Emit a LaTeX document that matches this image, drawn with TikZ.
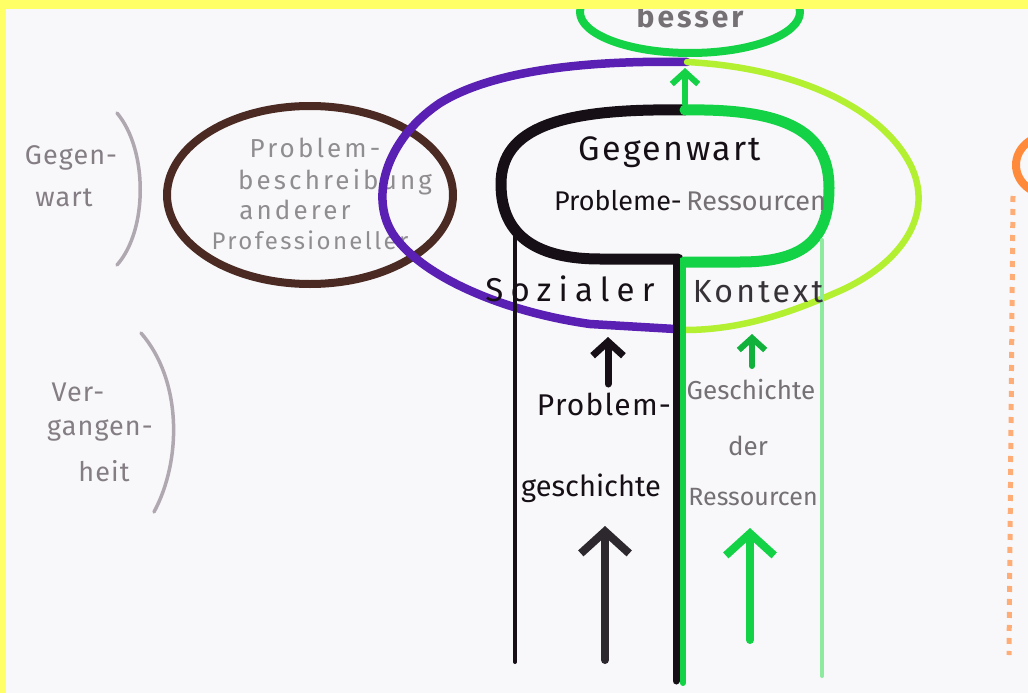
\documentclass[tikz,border=0pt]{standalone}
\usepackage{fontspec}
\setmainfont{Fira Sans}
\usetikzlibrary{arrows.meta}
\definecolor{paper}{HTML}{F8F8FA}
\definecolor{hiyellow}{HTML}{FFFF66}
\definecolor{crayon}{HTML}{161016}
\definecolor{violet}{HTML}{5A20B4}
\definecolor{lime}{HTML}{B4F032}
\definecolor{leaf}{HTML}{14D246}
\definecolor{paleleaf}{HTML}{8EEA9E}
\definecolor{bark}{HTML}{4A2A22}
\definecolor{pencil}{HTML}{B0A8B0}
\definecolor{softgrey}{HTML}{747074}
\definecolor{tangerine}{HTML}{FF8A3C}
\tikzset{
  stroke/.style={line cap=round,line join=round},
  upbarb/.style={-{Straight Barb[length=#1,width=2.2*#1]},line cap=round},
  handtext/.style={inner sep=0pt,anchor=center},
  faded/.style={handtext,text=softgrey},
  legend/.style={handtext,text=pencil!75!black,font=\fontsize{27}{27}\selectfont\addfontfeatures{LetterSpace=4}},
  outside/.style={handtext,text=softgrey!80,font=\fontsize{26}{26}\selectfont\addfontfeatures{LetterSpace=12}},
}
\begin{document}
\begin{tikzpicture}[x=1pt,y=-1pt]
\useasboundingbox (0,0) rectangle (1028,693);
\fill[paper] (0,0) rectangle (1028,693);

% ---- "besser" goal at the top ----
\node[faded,font=\fontsize{30}{30}\selectfont\bfseries\addfontfeatures{LetterSpace=10}] (besser) at (690,16) {besser};
\draw[stroke,leaf,line width=8pt] (690,12) ellipse (110 and 41);

% ---- left legend ----
\node[legend] (gegen) at (71,158) {Gegen-};
\node[legend] (wart) at (64,198) {wart};
\draw[stroke,pencil,line width=3.5pt] (117,113) .. controls (148,150) and (148,230) .. (117,265);
\node[legend] (ver) at (78,392) {Ver-};
\node[legend] (gangen) at (100,430) {gangen-};
\node[legend] (heit) at (104,471) {heit};
\draw[stroke,pencil,line width=3.5pt] (141,333) .. controls (182,380) and (182,460) .. (154,512);

% ---- other professionals' view ----
\node[outside] (pb1) at (315,148) {Problem-};
\node[outside] (pb2) at (335,182) {beschreibung};
\node[outside] (pb3) at (295,210) {anderer};
\node[outside,font=\fontsize{24}{24}\selectfont\addfontfeatures{LetterSpace=10}] (pb4) at (310,240) {Professioneller};
\draw[stroke,bark,line width=8pt] (310,195) ellipse (143 and 89);

% ---- social context: purple (problems) and lime (resources) ----
\coordinate (top) at (687,62);
\coordinate (lowL) at (675,329);
\coordinate (lowR) at (685,330);
\draw[stroke,violet,line width=8.5pt] (top) .. controls (580,60) and (490,72) .. (440,103)
  .. controls (385,140) and (368,200) .. (395,237)
  .. controls (425,278) and (505,312) .. (590,324) -- (lowL);
\draw[stroke,lime,line width=6.5pt] (top) .. controls (800,68) and (885,110) .. (912,168)
  .. controls (935,220) and (895,268) .. (835,293)
  .. controls (790,313) and (740,330) .. (lowR);

% ---- present: problems and resources ----
\coordinate (ptop) at (685,110);
\draw[stroke,crayon,line width=11pt] (ptop) .. controls (560,108) and (501,128) .. (501,184)
  .. controls (501,238) and (540,259) .. (600,259) -- (678,259);
\draw[stroke,leaf,line width=11pt] (ptop) .. controls (800,108) and (829,140) .. (829,188)
  .. controls (829,243) and (800,262) .. (740,262) -- (684,262);
\node[handtext,text=crayon,font=\fontsize{34}{34}\selectfont\addfontfeatures{LetterSpace=7}] (gegenwart) at (670,152) {Gegenwart};
\node[handtext,font=\fontsize{27}{27}\selectfont] (probres) at (690,201) {\textcolor{crayon}{Probleme-}\,\textcolor{softgrey}{Ressourcen}};

% ---- column borders ----
\draw[stroke,crayon,line width=4pt] (515,236) -- (515,662);
\draw[stroke,crayon,line width=7pt] (676,259) -- (676,681);
\draw[stroke,leaf,line width=6pt] (683,262) -- (683,683);
\draw[stroke,paleleaf,line width=4pt] (822,240) -- (822,676);

% ---- labels of the social context ----
\node[handtext,text=crayon,font=\fontsize{33}{33}\selectfont\addfontfeatures{LetterSpace=22}] (sozialer) at (570,289) {Sozialer};
\node[handtext,text=crayon!65!softgrey,font=\fontsize{32}{32}\selectfont\addfontfeatures{LetterSpace=10}] (kontext) at (758,292) {Kontext};

% ---- histories ----
\node[handtext,text=crayon,font=\fontsize{30}{30}\selectfont\addfontfeatures{LetterSpace=4}] (problem) at (604,404) {Problem-};
\node[handtext,text=crayon,font=\fontsize{29}{29}\selectfont] (geschichte) at (591,488) {geschichte};
\node[faded,font=\fontsize{26}{26}\selectfont] (gesch) at (751,390) {Geschichte};
\node[faded,font=\fontsize{26}{26}\selectfont] (der) at (748,446) {der};
\node[faded,font=\fontsize{25}{25}\selectfont] (ressourcen) at (753,497) {Ressourcen};

% ---- arrows ----
\coordinate (ga) at (685,104);
\coordinate (gb) at (685,68);
\draw[upbarb=12pt,leaf,line width=6pt] (ga) -- (gb);
\coordinate (pa) at (608,384);
\coordinate (pb) at (608,337);
\draw[upbarb=14pt,crayon,line width=7pt] (pa) -- (pb);
\coordinate (pc) at (605,660);
\coordinate (pd) at (605,526);
\draw[upbarb=22pt,crayon!90,line width=8pt] (pc) -- (pd);
\coordinate (ra) at (752,366);
\coordinate (rb) at (752,334);
\draw[upbarb=12pt,leaf!85!black,line width=6pt] (ra) -- (rb);
\coordinate (rc) at (750,640);
\coordinate (rd) at (750,528);
\draw[upbarb=22pt,leaf,line width=8pt] (rc) -- (rd);

% ---- orange marks at the right edge ----
\begin{scope}
\clip (0,0) rectangle (1028,693);
\draw[stroke,tangerine,line width=8pt] (1050,165) ellipse (34 and 30);
\draw[tangerine!70,line width=5pt,dash pattern=on 6pt off 7pt] (1013,196) -- (1009,655);
\end{scope}

% ---- highlighter edges of the sheet ----
\fill[hiyellow] (0,0) rectangle (1028,9);
\fill[hiyellow] (0,0) rectangle (6,693);
\end{tikzpicture}
\end{document}
